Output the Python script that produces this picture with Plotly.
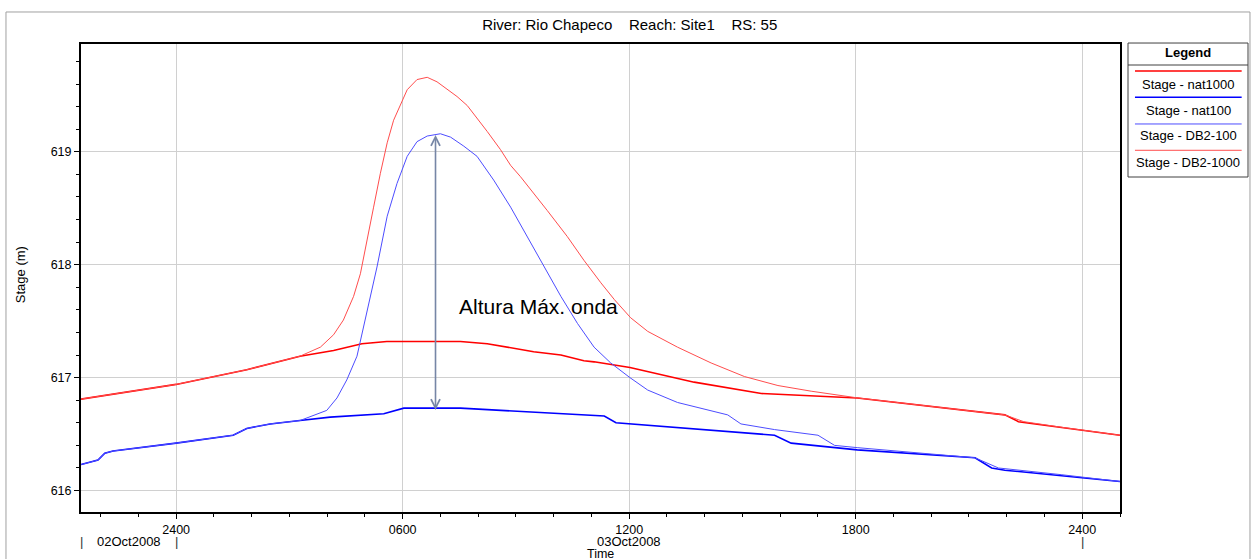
import plotly.graph_objects as go

# hours from 03Oct2008 00:00 (the first "2400" tick)
t_nat1000 = [-2.52, 0.0, 1.87, 3.28, 4.17, 4.92, 5.58, 6.5, 7.53, 8.24, 9.47, 10.19, 10.80, 11.07,
             12.02, 13.72, 15.50, 18.04, 21.95, 22.31, 23.46, 25.0]
s_nat1000 = [616.81, 616.94, 617.07, 617.19, 617.24, 617.30, 617.32, 617.32, 617.32, 617.30, 617.23,
             617.20, 617.15, 617.14, 617.09, 616.96, 616.86, 616.82, 616.67, 616.61, 616.56, 616.49]

t_nat100 = [-2.52, -2.07, -1.89, -1.67, 0.0, 1.51, 1.87, 2.49, 3.28, 4.08, 5.50, 6.03, 7.53, 10.19,
            11.34, 11.65, 12.02, 14.61, 15.85, 16.29, 16.82, 18.04, 21.16, 21.60, 21.95, 23.46, 25.0]
s_nat100 = [616.23, 616.27, 616.33, 616.35, 616.42, 616.49, 616.55, 616.59, 616.62, 616.65, 616.68,
            616.73, 616.73, 616.68, 616.66, 616.60, 616.59, 616.52, 616.49, 616.42, 616.40, 616.36,
            616.29, 616.20, 616.18, 616.13, 616.08]

t_db2_100 = [-2.52, -2.07, -1.89, -1.67, 0.0, 1.51, 1.87, 2.49, 3.28, 3.99, 4.26, 4.52, 4.79, 5.05,
             5.32, 5.59, 5.85, 6.12, 6.38, 6.65, 7.00, 7.27, 7.62, 7.97, 8.41, 8.86, 9.30, 9.74,
             10.19, 10.63, 11.07, 11.51, 12.02, 12.49, 13.28, 14.61, 14.96, 15.85, 17.00, 17.44,
             18.04, 21.16, 21.78, 23.46, 25.0]
s_db2_100 = [616.23, 616.27, 616.33, 616.35, 616.42, 616.49, 616.55, 616.59, 616.62, 616.71, 616.82,
             616.98, 617.19, 617.57, 617.98, 618.43, 618.72, 618.96, 619.09, 619.14, 619.16, 619.13,
             619.05, 618.96, 618.75, 618.51, 618.25, 617.98, 617.72, 617.48, 617.27, 617.13, 617.00,
             616.89, 616.78, 616.67, 616.59, 616.54, 616.49, 616.40, 616.38, 616.29, 616.20, 616.14,
             616.08]

t_db2_1000 = [-2.52, 0.0, 1.87, 3.28, 3.82, 4.17, 4.43, 4.70, 4.88, 5.05, 5.23, 5.41, 5.59, 5.76,
              5.94, 6.12, 6.38, 6.65, 6.91, 7.18, 7.44, 7.71, 7.97, 8.24, 8.59, 8.86, 9.12, 9.48,
              9.83, 10.36, 10.80, 11.25, 11.61, 12.04, 12.49, 13.28, 14.17, 15.05, 15.94, 16.82,
              18.06, 21.95, 22.45, 23.46, 25.0]
s_db2_1000 = [616.81, 616.94, 617.07, 617.19, 617.27, 617.38, 617.51, 617.72, 617.92, 618.22, 618.51,
              618.81, 619.08, 619.28, 619.41, 619.55, 619.64, 619.66, 619.62, 619.55, 619.49, 619.41,
              619.30, 619.18, 619.02, 618.88, 618.78, 618.63, 618.48, 618.25, 618.04, 617.84, 617.69,
              617.53, 617.41, 617.27, 617.13, 617.01, 616.93, 616.88, 616.82, 616.67, 616.61, 616.56,
              616.49]

tick_vals = [0, 6, 12, 18, 24]
tick_text = ["2400", "0600", "1200", "1800", "2400"]
day_marks = [-2.52, 0, 24]
day_labels = [(-1.26, "02Oct2008"), (12, "03Oct2008")]

series = [
    ("Stage - nat1000", t_nat1000, s_nat1000, "#ff0000", 1.6),
    ("Stage - nat100", t_nat100, s_nat100, "#0000ff", 1.6),
    ("Stage - DB2-100", t_db2_100, s_db2_100, "#4d4dff", 1),
    ("Stage - DB2-1000", t_db2_1000, s_db2_1000, "#ff4d4d", 1),
]

FONT = "Liberation Sans, Arial, sans-serif"
SP = "\u00a0" * 4


def txt(size):
    return dict(size=size, color="black", family=FONT)


fig = go.Figure()
for name, t, s, col, w in series:
    fig.add_trace(go.Scatter(x=t, y=s, mode="lines", name=name,
                             line=dict(color=col, width=w)))

# arrow for max wave height
fig.add_annotation(x=6.87, y=619.15, ax=6.87, ay=616.70, xref="x", yref="y",
                   axref="x", ayref="y", text="", showarrow=True,
                   arrowhead=5, startarrowhead=5, arrowside="end+start",
                   arrowsize=1.1, startarrowsize=1.1, arrowwidth=1.6,
                   arrowcolor="#7686a6")
fig.add_annotation(x=9.61, y=617.63, xref="x", yref="y", text="Altura Máx. onda",
                   xanchor="center", yanchor="middle", showarrow=False, font=txt(21))

# date labels under the time axis
for m in day_marks:
    fig.add_annotation(x=m, y=-0.064, xref="x", yref="paper", text="|", showarrow=False,
                       xanchor="center", yanchor="middle", font=dict(size=13, color="#333333", family=FONT))
for x, lab in day_labels:
    fig.add_annotation(x=x, y=-0.064, xref="x", yref="paper", text=lab, showarrow=False,
                       xanchor="center", yanchor="middle", font=txt(13))
fig.add_annotation(x=0.5, y=-0.089, xref="paper", yref="paper", text="Time", showarrow=False,
                   xanchor="center", yanchor="middle", font=txt(12.5))
fig.add_annotation(x=-0.0587, y=0.506, xref="paper", yref="paper", text="Stage (m)",
                   textangle=-90, showarrow=False, xanchor="center", yanchor="middle",
                   font=txt(13))

# outer frame
fig.add_shape(type="rect", xref="paper", yref="paper", x0=-0.0722, x1=1.1251, y0=-0.2, y1=1.0684,
              line=dict(color="#a0a0a0", width=1))

# custom legend box
lx0, lx1 = 1.0077, 1.1232
lxc = (lx0 + lx1) / 2
fig.add_shape(type="rect", xref="paper", yref="paper", x0=lx0, x1=lx1, y0=0.7158, y1=1.0021,
              line=dict(color="#404040", width=1), fillcolor="white")
fig.add_shape(type="line", xref="paper", yref="paper", x0=lx0, x1=lx1, y0=0.9551, y1=0.9551,
              line=dict(color="#404040", width=1))
fig.add_annotation(x=lxc, y=0.9808, xref="paper", yref="paper", text="<b>Legend</b>",
                   xanchor="center", yanchor="middle", showarrow=False, font=txt(13))
line_y = [0.9423, 0.8861, 0.8291, 0.7729]
text_y = [0.9139, 0.8583, 0.8041, 0.7472]
for (name, t, s, col, w), ly, ty in zip(series, line_y, text_y):
    fig.add_shape(type="line", xref="paper", yref="paper", x0=1.0144, x1=1.1171, y0=ly, y1=ly,
                  line=dict(color=col, width=w))
    fig.add_annotation(x=lxc, y=ty, xref="paper", yref="paper", text=name,
                       xanchor="center", yanchor="middle", showarrow=False, font=txt(13))

fig.update_layout(
    width=1252, height=559,
    margin=dict(l=81, r=132, t=44, b=47),
    paper_bgcolor="white", plot_bgcolor="white",
    showlegend=False,
    font=dict(family=FONT, size=12.5, color="black"),
    title=dict(text="River: Rio Chapeco" + SP + "Reach: Site1" + SP + "RS: 55",
               x=0.503, xanchor="center", xref="container",
               y=0.955, yanchor="middle", font=txt(15)),
    xaxis=dict(range=[-2.52, 25.0], tickvals=tick_vals, ticktext=tick_text,
               showgrid=True, gridcolor="#d0d0d0", gridwidth=1, zeroline=False,
               showline=True, linecolor="black", linewidth=2, mirror=True,
               ticks="outside", ticklen=5, tickcolor="black",
               minor=dict(dtick=1, tick0=0, ticks="outside", ticklen=3, tickcolor="black",
                          showgrid=False),
               tickfont=txt(12.5)),
    yaxis=dict(range=[615.81, 619.955], tickvals=[616, 617, 618, 619],
               showgrid=True, gridcolor="#d0d0d0", gridwidth=1, zeroline=False,
               showline=True, linecolor="black", linewidth=2, mirror=True,
               ticks="outside", ticklen=5, tickcolor="black",
               minor=dict(dtick=0.2, tick0=616, ticks="outside", ticklen=3, tickcolor="black",
                          showgrid=False),
               tickfont=txt(12.5)),
)

fig.write_html("out.html", config={"displayModeBar": False},
               post_script="document.body.style.margin='0';")
